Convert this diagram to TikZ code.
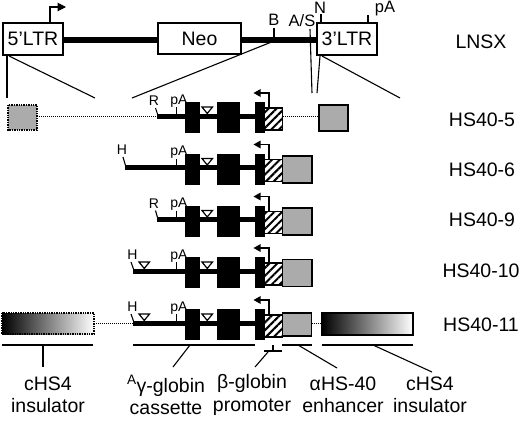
\documentclass[tikz,border=0pt]{standalone}
\usepackage{fontspec}
\setmainfont{Liberation Sans}
\usetikzlibrary{arrows.meta,patterns.meta}
\tikzset{
  thickline/.style={line width=5pt},
  thickerline/.style={line width=6pt},
  thinline/.style={line width=1.1pt},
  ltrbox/.style={draw, line width=1.5pt, fill=white, inner sep=0pt, font=\fontsize{19.5}{22}\selectfont},
  biglab/.style={font=\fontsize{19.5}{22}\selectfont, inner sep=0pt},
  toplab/.style={font=\fontsize{16.5}{18}\selectfont, inner sep=0pt},
  rowlab/.style={font=\fontsize{14}{16}\selectfont, inner sep=0pt},
  botlab/.style={font=\fontsize{19.5}{22.5}\selectfont, align=center, inner sep=0pt},
  rowarrow/.style={thinline, -{Triangle[length=7pt,width=7.5pt]}},
  toparrow/.style={thinline, -{Triangle[length=8.5pt,width=8.5pt]}},
  hatchbox/.style={draw, line width=1.2pt, fill=white, postaction={pattern={Lines[angle=45,distance=5.5pt,line width=2pt]}}},
  graybox/.style={draw, line width=1.4pt, fill=black!33},
  dotbox/.style={draw, densely dotted, line width=1.4pt},
  dotline/.style={densely dotted, line width=1pt},
  tri/.style={draw, line width=1.2pt, fill=white, line join=miter},
}
\newcommand\GeneCore[3]{%
  \draw[thickline] (#2,#1+14) -- (264.5,#1+14);
  \fill (184.5,#1) rectangle (199.5,#1+31);
  \fill (216.5,#1) rectangle (240,#1+31);
  \fill (255,#1) rectangle (264.5,#1+31);
  \draw[hatchbox] (264.5,#1+6) rectangle (282.5,#1+28);
  \coordinate (#3ps) at (269,#1+6);
  \coordinate (#3pc) at (269,#1-9);
  \coordinate (#3pe) at (253.5,#1-9);
  \draw[rowarrow] (#3ps) -- (#3pc) -- (#3pe);
  \node[rowlab] (#3pA) at (179,#1-1) {pA};
  \coordinate (#3pAt) at (176.5,#1+5);
  \coordinate (#3pAb) at (176.5,#1+11.5);
  \draw[thinline] (#3pAt) -- (#3pAb);
  \draw[tri] (202,#1+5) -- (212.5,#1+5) -- (207.25,#1+11.5) -- cycle;
}
\begin{document}
\begin{tikzpicture}[x=1pt,y=-1pt]
\useasboundingbox (0,0) rectangle (520,424);

% ---------- LNSX ----------
\draw[thickerline] (63,40) -- (317,40);
\node[ltrbox, minimum width=60pt, minimum height=32pt] (ltr5) at (33,39) {5'LTR};
\node[ltrbox, minimum width=83pt, minimum height=31pt] (neo) at (199.5,38.5) {Neo};
\node[ltrbox, minimum width=60pt, minimum height=32pt] (ltr3) at (347,39) {3'LTR};
\node[biglab] (lnsx) at (481,42) {LNSX};
\coordinate (p5a) at (50,23);
\coordinate (p5b) at (50,7);
\coordinate (p5c) at (66,7);
\draw[toparrow] (p5a) -- (p5b) -- (p5c);
% sites
\node[toplab] (B) at (274,20) {B};
\coordinate (Bt) at (274,28);
\coordinate (Bb) at (274,40);
\draw[thinline] (Bt) -- (Bb);
\node[toplab] (AS) at (302,21) {A/S};
\node[toplab] (N) at (320,8) {N};
\coordinate (Nt) at (321,14);
\draw[thinline] (Nt) -- (ltr3.north west -| Nt);
\node[toplab] (pAt) at (385,9) {pA};
\coordinate (pAa) at (368,15);
\draw[thinline] (pAa) -- (ltr3.north west -| pAa);
% expansion lines
\coordinate (e1a) at (7,55);   \coordinate (e1b) at (7,98);
\coordinate (e2a) at (9,56);   \coordinate (e2b) at (95,98);
\coordinate (e3a) at (274,41); \coordinate (e3b) at (132,98);
\coordinate (e4a) at (310,29); \coordinate (e4b) at (312,93);
\coordinate (e5a) at (320,56); \coordinate (e5b) at (317,93);
\coordinate (e6a) at (322,56); \coordinate (e6b) at (400,98);
\foreach \i in {1,...,6} { \draw[thinline] (e\i a) -- (e\i b); }

% ---------- HS40-5 ----------
\def\t{102}
\draw[dotbox, fill=black!33] (8,\t+3) rectangle (37,\t+28);
\draw[dotline] (37,\t+14) -- (157,\t+14);
\draw[dotline] (282.5,\t+14) -- (319,\t+14);
\GeneCore{\t}{157}{a}
\draw[graybox] (319,\t+3) rectangle (348,\t+29);
\node[rowlab] (aR) at (154,\t-1) {R};
\coordinate (aR1) at (155.5,\t+6); \coordinate (aR2) at (157.5,\t+12);
\draw[thinline] (aR1) -- (aR2);
\node[biglab] (n5) at (482,\t+17.5) {HS40-5};

% ---------- HS40-6 ----------
\def\t{153.5}
\GeneCore{\t}{125}{b}
\draw[graybox] (282.5,\t+2.5) rectangle (312,\t+29.5);
\node[rowlab] (bH) at (122,\t-3.5) {H};
\coordinate (bH1) at (123,\t+3.5); \coordinate (bH2) at (125.5,\t+12);
\draw[thinline] (bH1) -- (bH2);
\node[biglab] (n6) at (482,\t+16.5) {HS40-6};

% ---------- HS40-9 ----------
\def\t{205.5}
\GeneCore{\t}{157}{c}
\draw[graybox] (282.5,\t+2.5) rectangle (312,\t+29.5);
\node[rowlab] (cR) at (154,\t-2) {R};
\coordinate (cR1) at (155.5,\t+5); \coordinate (cR2) at (157.5,\t+12);
\draw[thinline] (cR1) -- (cR2);
\node[biglab] (n9) at (482,\t+14) {HS40-9};

% ---------- HS40-10 ----------
\def\t{257}
\GeneCore{\t}{133}{d}
\draw[graybox] (282.5,\t+2.5) rectangle (312,\t+29.5);
\node[rowlab] (dH) at (132.5,\t-2) {H};
\coordinate (dH1) at (131,\t+5); \coordinate (dH2) at (133.5,\t+12);
\draw[thinline] (dH1) -- (dH2);
\draw[tri] (139,\t+5) -- (149.5,\t+5) -- (144.25,\t+11.5) -- cycle;
\node[biglab] (n10) at (481,\t+14) {HS40-10};

% ---------- HS40-11 ----------
\def\t{309}
\shade[left color=black, right color=white] (2,\t+4) rectangle (94,\t+25);
\draw[dotbox] (2,\t+4) rectangle (94,\t+25);
\draw[dotline] (94,\t+14) -- (133,\t+14);
\GeneCore{\t}{133}{e}
\draw[graybox] (282.5,\t+4) rectangle (311.5,\t+27);
\draw[dotline] (311.5,\t+14) -- (322,\t+14);
\draw[line width=1.5pt, left color=black, right color=white] (322,\t+4) rectangle (413,\t+26);
\node[rowlab] (eH) at (132.5,\t-2) {H};
\coordinate (eH1) at (131,\t+5); \coordinate (eH2) at (133.5,\t+12);
\draw[thinline] (eH1) -- (eH2);
\draw[tri] (139,\t+5) -- (149.5,\t+5) -- (144.25,\t+11.5) -- cycle;
\node[biglab] (n11) at (481,\t+16) {HS40-11};

% ---------- bottom labels ----------
\coordinate (u1a) at (2,345);   \coordinate (u1b) at (93,345);
\coordinate (u2a) at (133,345); \coordinate (u2b) at (255,345);
\coordinate (u3a) at (264,351); \coordinate (u3b) at (282,351);
\coordinate (u4a) at (282,345); \coordinate (u4b) at (312,345);
\coordinate (u5a) at (322,345); \coordinate (u5b) at (413,345);
\foreach \i in {1,...,5} { \draw[thinline] (u\i a) -- (u\i b); }
\coordinate (u3t) at (273,345); \coordinate (u3m) at (273,351);
\draw[thinline] (u3t) -- (u3m);

\node[botlab] (L1) at (48,395) {cHS4\\insulator};
\node[botlab] (L2) at (166,395) {\textsuperscript{A}γ-globin\\cassette};
\node[botlab] (L3) at (252,395) {β-globin\\promoter};
\node[botlab] (L4) at (343,395) {αHS-40\\enhancer};
\node[botlab] (L5) at (430,395) {cHS4\\insulator};

\coordinate (k1a) at (43,345);  \coordinate (k1b) at (43,367);
\coordinate (k2a) at (190,345); \coordinate (k2b) at (173,367);
\coordinate (k3a) at (268,352); \coordinate (k3b) at (255,367);
\coordinate (k4a) at (298,345); \coordinate (k4b) at (337,368);
\coordinate (k5a) at (373,345); \coordinate (k5b) at (432,372);
\foreach \i in {1,...,5} { \draw[thinline] (k\i a) -- (k\i b); }
\end{tikzpicture}
\end{document}
